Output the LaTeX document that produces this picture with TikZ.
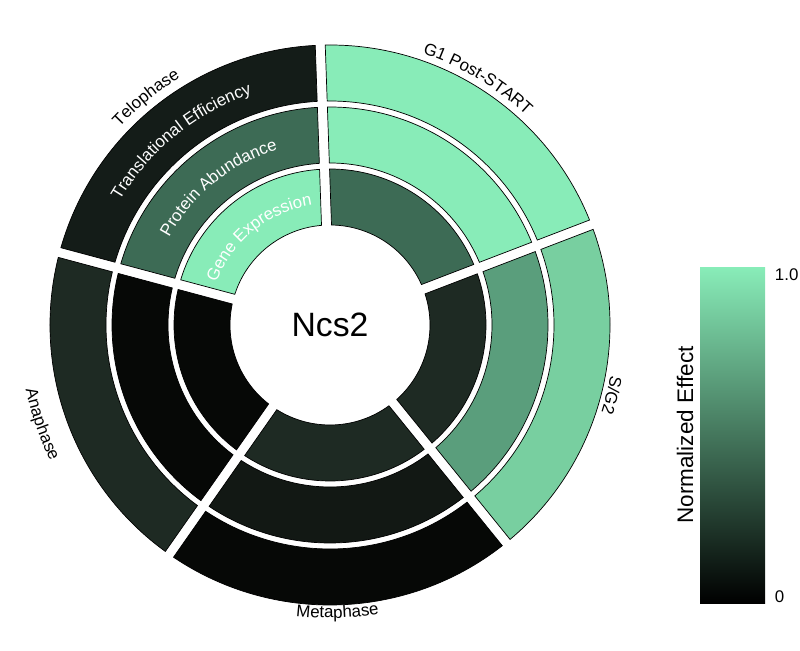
\documentclass[tikz,border=0pt]{standalone}
\usepackage{fontspec}
\setmainfont{Liberation Sans}
\usetikzlibrary{decorations.text}
\definecolor{effHi}{HTML}{88ECB8}
\definecolor{effMid}{HTML}{3D6B55}
\definecolor{effDark}{HTML}{141C18}
\definecolor{effSgMid}{HTML}{5A9E7C}
\definecolor{effSgOut}{HTML}{78CFA0}
\definecolor{effDk}{HTML}{1E2A23}
\definecolor{effVdk}{HTML}{121814}
\definecolor{effBlk}{HTML}{060806}
% one ring segment: start angle, end angle, inner r, outer r, colour
\newcommand\ringseg[5]{%
  \pgfmathsetmacro\sa{#1+asin(5/#3)}%
  \pgfmathsetmacro\sb{#1+asin(5/#4)}%
  \pgfmathsetmacro\sc{#2-asin(5/#4)}%
  \pgfmathsetmacro\sd{#2-asin(5/#3)}%
  \filldraw[segment, fill=#5] (\sa:#3) -- (\sb:#4)
    arc[start angle=\sb, end angle=\sc, radius=#4] -- (\sd:#3)
    arc[start angle=\sd, end angle=\sa, radius=#3] -- cycle;}
% curved label: radius, start angle, end angle, colour, text
\newcommand\arclabel[5]{%
  \path[decorate, decoration={text along path, text align=center,
    text color=#4, text={#5}}]
    (#2:#1) arc[start angle=#2, end angle=#3, radius=#1];}
\begin{document}
\begin{tikzpicture}[x=0.025cm, y=0.025cm,
    segment/.style={draw=black, line width=0.5pt},
    ]
    \useasboundingbox (-330,-325) rectangle (470,325);

    % G1 Post-START
    \ringseg{21}{92}{100}{156}{effMid}
    \ringseg{21}{92}{162}{218}{effHi}
    \ringseg{21}{92}{224}{280}{effHi}
    % S/G2
    \ringseg{-51}{21}{100}{156}{effDk}
    \ringseg{-51}{21}{162}{218}{effSgMid}
    \ringseg{-51}{21}{224}{280}{effSgOut}
    % Metaphase
    \ringseg{-125}{-51}{100}{156}{effDk}
    \ringseg{-125}{-51}{162}{218}{effVdk}
    \ringseg{-125}{-51}{224}{280}{effBlk}
    % Anaphase
    \ringseg{-195}{-125}{100}{156}{effBlk}
    \ringseg{-195}{-125}{162}{218}{effBlk}
    \ringseg{-195}{-125}{224}{280}{effDk}
    % Telophase
    \ringseg{92}{165}{100}{156}{effHi}
    \ringseg{92}{165}{162}{218}{effMid}
    \ringseg{92}{165}{224}{280}{effDark}

    \node (gene) at (0,0) {\fontsize{24}{28}\selectfont Ncs2};

    % phase names
    \arclabel{287}{110}{8}{black}{|\fontsize{12}{14}\selectfont|G1 Post-START}
    \arclabel{285}{16}{-44}{black}{|\fontsize{12}{14}\selectfont|S/G2}
    \arclabel{293}{-128}{-49}{black}{|\fontsize{12}{14}\selectfont|Metaphase}
    \arclabel{311}{165}{233}{black}{|\fontsize{12}{14}\selectfont|Anaphase}
    \arclabel{289}{170}{88}{black}{|\fontsize{12}{14}\selectfont|Telophase}
    % ring names
    \arclabel{244}{170}{88}{white}{|\fontsize{12}{14}\selectfont|Translational Efficiency}
    \arclabel{183}{175}{83}{white}{|\fontsize{12}{14}\selectfont|Protein Abundance}
    \arclabel{121}{180}{78}{white}{|\fontsize{12}{14}\selectfont|Gene Expression}

    % colour bar
    \shade[bottom color=black, top color=effHi] (370,-278) rectangle (435,57);
    \node[anchor=west] (hi) at (440,50) {\fontsize{12}{14}\selectfont 1.0};
    \node[anchor=west] (lo) at (440,-272) {\fontsize{12}{14}\selectfont 0};
    \node[rotate=90] (bar) at (355,-110) {\fontsize{16}{18}\selectfont Normalized Effect};
\end{tikzpicture}
\end{document}
